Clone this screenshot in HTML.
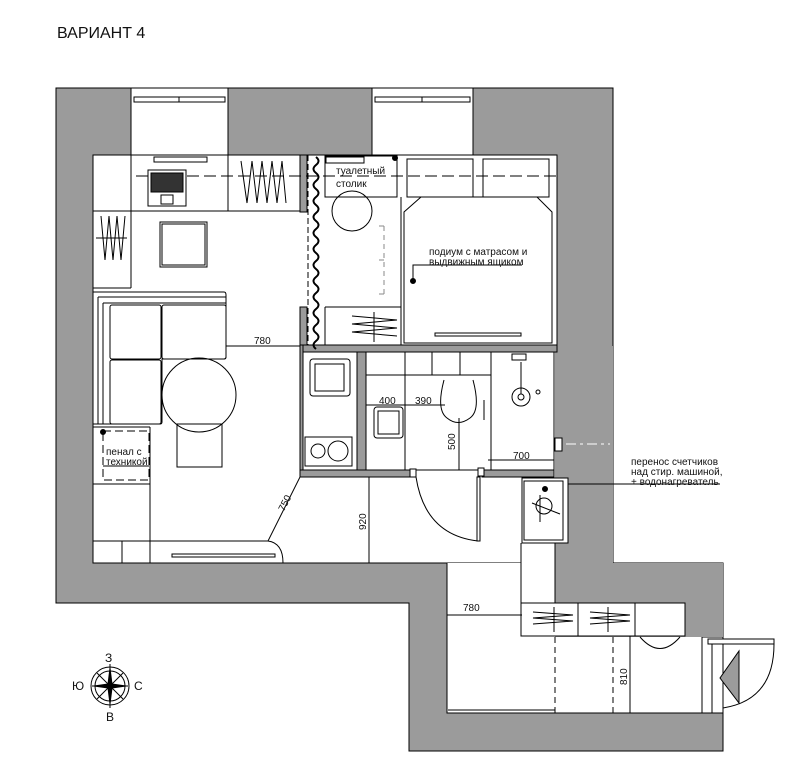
<!DOCTYPE html>
<html><head><meta charset="utf-8"><style>
html,body{margin:0;padding:0;background:#fff;}
svg{display:block;}
text{font-family:"Liberation Sans","DejaVu Sans",sans-serif;fill:#111;}
</style></head><body>
<svg width="798" height="784" viewBox="0 0 798 784" xmlns="http://www.w3.org/2000/svg">
<rect width="798" height="784" fill="#fff"/>
<text x="57" y="38" font-size="16">ВАРИАНТ 4</text>

<polygon points="56,88 613,88 613,563 723,563 723,751 409,751 409,603 56,603" fill="#9b9b9b" stroke="#000" stroke-width="1"/>
<rect x="131" y="88" width="97" height="67" fill="#fff" stroke="#000"/>
<rect x="372" y="88" width="101" height="67" fill="#fff" stroke="#000"/>
<rect x="134" y="97" width="91" height="5" fill="#fff" stroke="#000"/>
<rect x="375" y="97" width="95" height="5" fill="#fff" stroke="#000"/>
<line x1="179" y1="97" x2="179" y2="102" stroke="#000"/><line x1="422" y1="97" x2="422" y2="102" stroke="#000"/>

<g fill="#fff" stroke="#000">
<rect x="93" y="155" width="464" height="408"/>
<rect x="447" y="563" width="108" height="150" stroke="none"/>
<rect x="555" y="637" width="147" height="76" stroke="none"/>
<rect x="521" y="476" width="34" height="127" stroke="none"/>
<rect x="702" y="637" width="21" height="76"/>
</g>
<polyline points="447,563 447,713 702,713" fill="none" stroke="#000"/>
<rect x="555" y="346" width="58" height="217" fill="#9b9b9b"/>
<rect x="555" y="563" width="168" height="40" fill="#9b9b9b"/>
<rect x="685" y="563" width="38" height="74" fill="#9b9b9b"/>
<line x1="557" y1="155" x2="557" y2="346" stroke="#000"/>
<line x1="554" y1="346" x2="554" y2="470" stroke="#000"/>
<line x1="555" y1="543" x2="555" y2="603" stroke="#000"/>
<line x1="447" y1="563" x2="447" y2="713" stroke="#000"/>

<g fill="#9b9b9b" stroke="#000">
<rect x="300" y="155" width="7" height="57"/>
<rect x="300" y="307" width="7" height="39"/>
<rect x="300" y="345" width="257" height="7"/>
<rect x="300" y="345" width="3" height="132"/>
<rect x="357" y="352" width="9" height="120"/>
<rect x="300" y="470" width="112" height="7"/>
<rect x="482" y="470" width="72" height="7"/>
</g>
<path d="M316,157 q5,4 0,8 q-5,4 0,8 q5,4 0,8 q-5,4 0,8 q5,4 0,8 q-5,4 0,8 q5,4 0,8 q-5,4 0,8 q5,4 0,8 q-5,4 0,8 q5,4 0,8 q-5,4 0,8 q5,4 0,8 q-5,4 0,8 q5,4 0,8 q-5,4 0,8 q5,4 0,8 q-5,4 0,8 q5,4 0,8 q-5,4 0,8 q5,4 0,8 q-5,4 0,8 q5,4 0,8 q-5,4 0,8" fill="none" stroke="#000" stroke-width="2"/>
<line x1="308" y1="155" x2="308" y2="345" stroke="#000" stroke-dasharray="6,3"/>

<g fill="none" stroke="#000" stroke-width="1">
<line x1="93" y1="211" x2="300" y2="211"/>
<line x1="131" y1="155" x2="131" y2="288"/>
<line x1="228" y1="155" x2="228" y2="211"/>
<line x1="93" y1="288" x2="131" y2="288"/>
<line x1="136" y1="176" x2="557" y2="176" stroke-dasharray="12,5"/>
<rect x="154" y="157" width="53" height="5"/>
<rect x="148" y="170" width="38" height="36"/>
<rect x="151" y="173" width="32" height="19" fill="#333"/>
<rect x="161" y="195" width="12" height="9"/>
<path d="M241,161 l6,42 l5,-42 l5,42 l5,-42 l5,42 l5,-42 l5,42 l5,-42 l4,42"/>
<path d="M101,216 l4,44 l4,-44 l4,44 l4,-44 l4,44 l4,-44"/>
<line x1="96" y1="238" x2="127" y2="238"/>
<rect x="160" y="222" width="47" height="45"/>
<rect x="162" y="224" width="43" height="41"/>
<!-- sofa L -->
<path d="M93,292 L224,292 Q226,292 226,295 L226,357 Q226,359 224,359 L162,359 L162,422 Q162,424 160,424 L93,424 Z"/>
<path d="M98,297 L226,297 M98,297 L98,424 M103,303 L226,303 M103,303 L103,424"/>
<rect x="110" y="305" width="51" height="54" rx="2"/>
<rect x="162" y="305" width="64" height="54" rx="2"/>
<rect x="110" y="360" width="51" height="64" rx="2"/>
<circle cx="199" cy="395" r="37"/>
<rect x="177" y="424" width="45" height="43"/>
<line x1="93" y1="427" x2="150" y2="427"/>
<line x1="150" y1="427" x2="150" y2="563"/>
<rect x="103" y="431" width="46" height="49" stroke-dasharray="8,4"/>
<line x1="103" y1="466" x2="149" y2="466"/>
<circle cx="103" cy="432" r="2.5" fill="#000"/>
<line x1="93" y1="484" x2="150" y2="484"/>
<line x1="93" y1="541" x2="150" y2="541"/>
<line x1="122" y1="541" x2="122" y2="563"/>
<path d="M150,541 L268,541 Q283,543 283,563"/>
<rect x="172" y="554" width="103" height="3"/>
<line x1="226" y1="346" x2="300" y2="346"/>
<line x1="300" y1="477" x2="268" y2="541"/>
<line x1="369" y1="477" x2="369" y2="563"/>
<rect x="325" y="156" width="72" height="41"/>
<rect x="326" y="157" width="38" height="6"/>
<circle cx="395" cy="158" r="2.5" fill="#000"/>
<circle cx="352" cy="211" r="20"/>
<rect x="407" y="159" width="66" height="38"/>
<rect x="483" y="159" width="66" height="38"/>
<polygon points="421,197 537,197 552,212 552,343 404,343 404,212"/>
<rect x="435" y="333" width="86" height="3"/>
<path d="M384,226 h-6 M384,226 v68 M384,294 h-6 M384,260 h-6" stroke="#888" stroke-dasharray="5,4"/>
<polyline points="413,281 413,265 522,265"/>
<circle cx="413" cy="281" r="2.5" fill="#000"/>
<line x1="325" y1="307" x2="401" y2="307"/>
<line x1="325" y1="307" x2="325" y2="345"/>
<line x1="401" y1="197" x2="401" y2="345"/>
<path d="M352,316 l45,4 l-45,4 l45,4 l-45,4 l45,4"/>
<line x1="374" y1="312" x2="374" y2="342"/>
<rect x="310" y="359" width="40" height="37" rx="3"/>
<rect x="315" y="364" width="29" height="27"/>
<rect x="305" y="437" width="47" height="29"/>
<circle cx="318" cy="451" r="7"/><circle cx="338" cy="451" r="10"/>
<rect x="366" y="352" width="188" height="118"/>
<line x1="366" y1="375" x2="491" y2="375"/>
<line x1="405" y1="352" x2="405" y2="375"/>
<line x1="432" y1="352" x2="432" y2="375"/>
<line x1="460" y1="352" x2="460" y2="375"/>
<line x1="491" y1="352" x2="491" y2="470"/>
<line x1="405" y1="375" x2="405" y2="470"/>
<rect x="374" y="407" width="29" height="31" rx="3"/>
<rect x="378" y="411" width="21" height="23"/>
<path d="M444,380 Q436,410 447,418 Q458,427 470,418 Q481,410 473,380"/>
<line x1="366" y1="405" x2="445" y2="405"/>
<line x1="459" y1="418" x2="459" y2="470"/>
<line x1="484" y1="400" x2="484" y2="420"/>
<line x1="488" y1="460" x2="554" y2="460"/>
<circle cx="521" cy="397" r="9"/><circle cx="521" cy="397" r="3"/>
<line x1="521" y1="362" x2="521" y2="394"/>
<rect x="512" y="354" width="14" height="6"/>
<circle cx="538" cy="392" r="2"/>
<rect x="555" y="438" width="7" height="13" fill="#fff"/>
<line x1="566" y1="444" x2="610" y2="444" stroke-dasharray="10,4,3,4" stroke="#fff"/>
<rect x="410" y="469" width="6" height="8" fill="#fff"/>
<rect x="478" y="468" width="6" height="8" fill="#fff"/>
<path d="M416,477 Q425,535 478,541"/>
<rect x="477" y="477" width="3" height="64" fill="#fff"/>
<rect x="522" y="478" width="46" height="65" fill="#fff"/>
<rect x="524" y="481" width="39" height="59"/>
<circle cx="544" cy="506" r="8"/>
<circle cx="545" cy="489" r="2.5" fill="#000"/>
<line x1="532" y1="503" x2="560" y2="514"/><line x1="540" y1="495" x2="540" y2="522"/>
<line x1="568" y1="484" x2="720" y2="484"/>
<line x1="521" y1="543" x2="521" y2="603"/>
<rect x="521" y="603" width="164" height="33" fill="#fff"/>
<line x1="578" y1="603" x2="578" y2="636"/>
<line x1="635" y1="603" x2="635" y2="636"/>
<path d="M533,612 l40,3 l-40,3 l40,3 l-40,3"/>
<path d="M590,612 l40,3 l-40,3 l40,3 l-40,3"/>
<line x1="554" y1="607" x2="554" y2="632"/><line x1="608" y1="607" x2="608" y2="632"/>
<path d="M640,637 Q660,660 680,637"/>
<line x1="447" y1="615" x2="522" y2="615"/>
<line x1="555" y1="637" x2="555" y2="713" stroke-dasharray="6,4"/>
<line x1="613" y1="637" x2="613" y2="713" stroke-dasharray="6,4"/>
<line x1="630" y1="636" x2="630" y2="713"/>
<line x1="448" y1="710" x2="555" y2="710"/>
<rect x="712" y="639" width="11" height="74"/>
<rect x="708" y="639" width="66" height="5" fill="#fff"/>
<polygon points="739,651 739,703 720,678" fill="#9b9b9b"/>
<path d="M774,644 Q774,700 723,708"/>
</g>
<g font-size="10">
<text x="254" y="344">780</text>
<text x="379" y="404">400</text>
<text x="415" y="404">390</text>
<text x="513" y="459">700</text>
<text x="463" y="611">780</text>
<text x="336" y="174">туалетный</text>
<text x="336" y="187">столик</text>
<text x="429" y="255">подиум с матрасом и</text>
<text x="429" y="265">выдвижным ящиком</text>
<text x="106" y="455">пенал с</text>
<text x="106" y="465">техникой</text>
<text x="631" y="465">перенос счетчиков</text>
<text x="631" y="475">над стир. машиной,</text>
<text x="631" y="485">+ водонагреватель</text>
<text transform="translate(455,450) rotate(-90)">500</text>
<text transform="translate(366,530) rotate(-90)">920</text>
<text transform="translate(627,685) rotate(-90)">810</text>
<text transform="translate(284,512) rotate(-63)">750</text>
</g>
<g fill="none" stroke="#000">
<circle cx="110" cy="686" r="19"/><circle cx="110" cy="686" r="15"/>
<line x1="92" y1="686" x2="128" y2="686"/><line x1="110" y1="664" x2="110" y2="708"/>
<line x1="97" y1="673" x2="123" y2="699"/><line x1="123" y1="673" x2="97" y2="699"/>
<polygon points="110,668 112,684 126,686 112,688 110,704 108,688 94,686 108,684" fill="#000"/>
</g>
<g font-size="12">
<text x="105" y="662">З</text><text x="106" y="721">В</text>
<text x="72" y="690">Ю</text><text x="134" y="690">С</text>
</g>
</svg>
</body></html>
